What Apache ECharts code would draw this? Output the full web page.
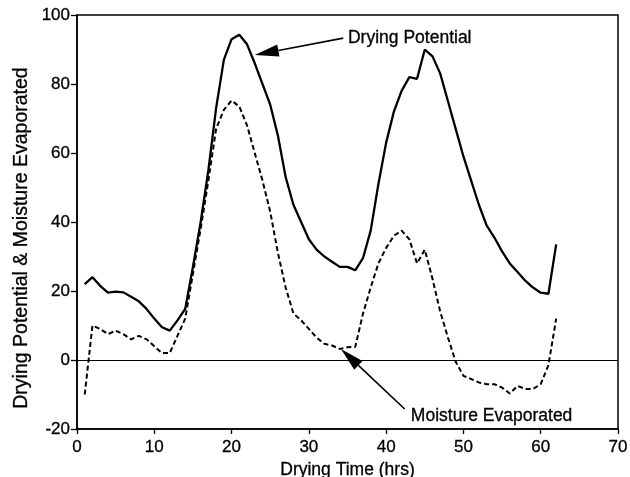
<!DOCTYPE html>
<html>
<head>
<meta charset="utf-8">
<style>
  html, body { margin: 0; padding: 0; background: #fff; }
  #main { width: 630px; height: 477px; }
</style>
<script src="https://cdn.jsdelivr.net/npm/echarts@6/dist/echarts.min.js"></script>
</head>
<body>
<div id="main"></div>
<script>
var hours = [1, 2, 3, 4, 5, 6, 7, 8, 9, 10, 11, 12, 13, 14, 15, 16, 17, 18, 19, 20,
  21, 22, 23, 24, 25, 26, 27, 28, 29, 30, 31, 32, 33, 34, 35, 36, 37, 38, 39, 40,
  41, 42, 43, 44, 45, 46, 47, 48, 49, 50, 51, 52, 53, 54, 55, 56, 57, 58, 59, 60, 61, 62];

var dryingPotential = [22, 24, 21.5, 19.5, 19.8, 19.6, 18.3, 17, 14.8, 12,
  9.5, 8.5, 11.5, 14.8, 27, 40, 55, 73, 87, 93,
  94.3, 91.5, 86, 80, 74, 65, 53, 45, 40, 35,
  32, 30, 28.5, 27, 27, 26, 29.5, 37.5, 51, 63,
  72, 78, 82, 81.5, 90, 88, 83, 75, 67, 59,
  52, 45, 39, 35.5, 31.5, 28, 25.5, 23, 21, 19.5, 19.2, 33.5];

var moistureEvaporated = [-10, 10, 9, 7.5, 8.5, 7.5, 6, 7, 6, 4,
  2, 2, 7, 12, 25, 38, 52, 67, 72.5, 75.2,
  73.5, 68, 60, 52, 43, 31, 21, 13.5, 11.5, 9,
  6.5, 4.7, 4.2, 3.2, 3.7, 3.8, 13.4, 21, 28, 32.5,
  36, 37.5, 35, 28, 32, 23.5, 14, 6.5, -0.5, -4.6,
  -5.5, -6.5, -7, -7, -8, -9.7, -7.5, -8.4, -8.4, -7, -1.5, 12];

// annotation text + arrow, in data coords: text pos, line start, arrow tip
var dryingNote = { text: 'Drying Potential', at: [35.06, 93.3], from: [34.45, 93.3], tip: [23.0, 88.4] };
var moistureNote = { text: 'Moisture Evaporated', at: [43.2, -16.2], from: [42.4, -14.2], tip: [34.15, 3.2] };

var FONT = '"Liberation Sans", Arial, Helvetica, sans-serif';
var INK = { color: '#000', textBorderColor: '#000', textBorderWidth: 0.3, fontFamily: FONT };

function pairs(vals) {
  return hours.map(function (h, i) { return [h, vals[i]]; });
}

var chart = echarts.init(document.getElementById('main'));

chart.setOption({
  animation: false,
  backgroundColor: '#fff',
  grid: {
    left: 77, right: 12, top: 15, bottom: 48, outerBoundsMode: 'none', containLabel: false,
    show: true, borderColor: '#000', borderWidth: 1.5
  },
  xAxis: {
    type: 'value', min: 0, max: 70, interval: 10,
    name: 'Drying Time (hrs)', nameLocation: 'middle', nameGap: 29,
    nameTextStyle: Object.assign({ fontSize: 17.5 }, INK),
    axisLine: { onZero: false, lineStyle: { color: '#000', width: 1.5 } },
    axisTick: { show: true, length: 5, lineStyle: { color: '#000', width: 1.3 } },
    axisLabel: Object.assign({ fontSize: 17, margin: 10 }, INK),
    splitLine: { show: false }
  },
  yAxis: {
    type: 'value', min: -20, max: 100, interval: 20,
    axisLine: { show: true, onZero: false, lineStyle: { color: '#000', width: 1.5 } },
    axisTick: { show: true, length: 6, lineStyle: { color: '#000', width: 1.3 } },
    axisLabel: Object.assign({ fontSize: 17, margin: 7 }, INK),
    splitLine: { show: false }
  },
  series: [
    {
      name: 'Drying Potential', type: 'line', data: pairs(dryingPotential),
      showSymbol: false, symbol: 'none',
      lineStyle: { color: '#000', width: 2.3 },
      markLine: {
        silent: true, symbol: 'none', label: { show: false },
        lineStyle: { color: '#000', width: 1.2, type: 'solid' },
        data: [{ yAxis: 0 }]
      }
    },
    {
      name: 'Moisture Evaporated', type: 'line', data: pairs(moistureEvaporated),
      showSymbol: false, symbol: 'none',
      lineStyle: { color: '#000', width: 2, type: [5, 3] }
    }
  ]
});

function toPx(p) { return chart.convertToPixel({ gridIndex: 0 }, p); }

function noteGraphics(note) {
  var a = toPx(note.from), b = toPx(note.tip), t = toPx(note.at);
  var dx = b[0] - a[0], dy = b[1] - a[1];
  var len = Math.sqrt(dx * dx + dy * dy);
  var ux = dx / len, uy = dy / len;
  var headLen = 24, headHalf = 6;
  var bx = b[0] - ux * headLen, by = b[1] - uy * headLen;
  return [
    { type: 'line', silent: true, shape: { x1: a[0], y1: a[1], x2: bx, y2: by },
      style: { stroke: '#000', lineWidth: 1.6 } },
    { type: 'polygon', silent: true,
      shape: { points: [[b[0], b[1]], [bx - uy * headHalf, by + ux * headHalf], [bx + uy * headHalf, by - ux * headHalf]] },
      style: { fill: '#000' } },
    { type: 'text', silent: true, x: t[0], y: t[1],
      style: { text: note.text, fill: '#000', stroke: '#000', lineWidth: 0.3, font: '17.5px ' + FONT,
        align: 'left', verticalAlign: 'middle', textAlign: 'left', textVerticalAlign: 'middle' } }
  ];
}

chart.setOption({
  graphic: noteGraphics(dryingNote).concat(noteGraphics(moistureNote)).concat([
    { type: 'text', silent: true, x: 22, y: 238, rotation: Math.PI / 2,
      style: { text: 'Drying Potential & Moisture Evaporated', fill: '#000', stroke: '#000', lineWidth: 0.3,
        font: '19.5px ' + FONT,
        align: 'center', verticalAlign: 'middle', textAlign: 'center', textVerticalAlign: 'middle' } }
  ])
});
</script>
</body>
</html>
